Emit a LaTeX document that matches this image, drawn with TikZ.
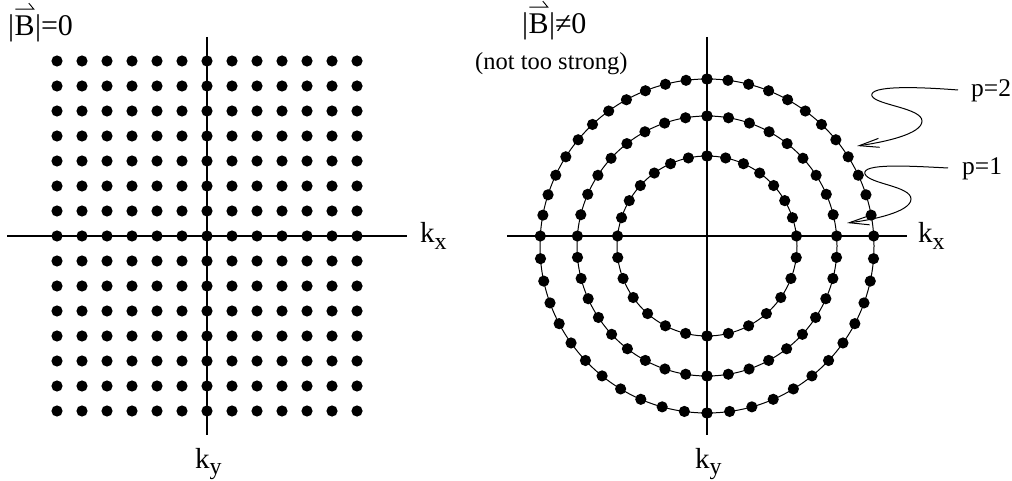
\documentclass[tikz,border=0pt]{standalone}
\usepackage{fontspec}
\setmainfont{Liberation Serif}
\usetikzlibrary{arrows.meta,calc}
\begin{document}
\begin{tikzpicture}[x=1pt,y=-1pt,
  axis/.style={line width=1.3pt},
  ring/.style={line width=1pt},
  dotf/.style={fill=black},
  big/.style={font=\fontsize{30}{32}\selectfont, inner sep=0pt},
  klbl/.style={font=\fontsize{29}{31}\selectfont, inner sep=0pt},
  small/.style={font=\fontsize{24.5}{26}\selectfont, inner sep=0pt},
  plbl/.style={font=\fontsize{25.5}{27}\selectfont, inner sep=0pt},
  pointer/.style={line width=1pt, -{Straight Barb[length=20pt,width=9pt,line width=1pt]}}]
\useasboundingbox (0,0) rectangle (1012,481);
% ---------- left panel ----------
\draw[axis] (7,236) -- (407,236);
\draw[axis] (207,37) -- (207,435);
\foreach \i in {0,...,12}{
  \foreach \j in {0,...,14}{
    \fill[dotf] (57+25*\i, 61+25*\j) circle (5.6);
  }
}
\node[big, anchor=base west] (lbar1) at (8,36) {|};
\node[big, anchor=base west] (lB) at (lbar1.base east) {B};
\node[big, anchor=base west] (lrest) at (lB.base east) {|=0};
\draw[line width=0.9pt] ($(lB.north west)+(1,-7)$) -- ($(lB.north east)+(-1,-7)$) -- ++(-5,-6);
\node[klbl, anchor=base west] (kxl) at (420,243) {k\raisebox{-6pt}{\fontsize{24}{24}\selectfont x}};
\node[klbl, anchor=base west] (kyl) at (195,468) {k\raisebox{-6pt}{\fontsize{24}{24}\selectfont y}};
% ---------- right panel ----------
\draw[axis] (507,236) -- (907,236);
\draw[axis] (707,37) -- (707,435);
\coordinate (c) at (707,246);
% radius / intervals per upper quadrant / intervals per lower quadrant
\foreach \r/\nu/\nl in {90/7/7,130/9/10,167/12/12}{
  \draw[ring] (c) circle (\r);
  \pgfmathsetmacro{\tz}{asin(10/\r)}
  \pgfmathsetmacro{\su}{(90-\tz)/\nu}
  \pgfmathsetmacro{\sl}{(90+\tz)/\nl}
  \foreach \k in {0,...,\nu}{
    \pgfmathsetmacro{\t}{\tz+\su*\k}
    \fill[dotf] ({707+\r*cos(\t)},{246-\r*sin(\t)}) circle (5.6);
    \fill[dotf] ({707-\r*cos(\t)},{246-\r*sin(\t)}) circle (5.6);
  }
  \foreach \k in {1,...,\nl}{
    \pgfmathsetmacro{\t}{\tz-\sl*\k}
    \fill[dotf] ({707+\r*cos(\t)},{246-\r*sin(\t)}) circle (5.6);
    \fill[dotf] ({707-\r*cos(\t)},{246-\r*sin(\t)}) circle (5.6);
  }
}
\node[big, anchor=base west] (rbar1) at (522,34) {|};
\node[big, anchor=base west] (rB) at (rbar1.base east) {B};
\node[big, anchor=base west] (rrest) at (rB.base east) {|≠0};
\draw[line width=0.9pt] ($(rB.north west)+(1,-7)$) -- ($(rB.north east)+(-1,-7)$) -- ++(-5,-6);
\node[small, anchor=base west] (nts) at (475,70) {(not too strong)};
\node[klbl, anchor=base west] (kxr) at (918,243) {k\raisebox{-6pt}{\fontsize{24}{24}\selectfont x}};
\node[klbl, anchor=base west] (kyr) at (695,468) {k\raisebox{-6pt}{\fontsize{24}{24}\selectfont y}};
% ---------- pointers ----------
\node[plbl, anchor=base west] (p2) at (971,97) {p=2};
\node[plbl, anchor=base west] (p1) at (962,175) {p=1};
\coordinate (s2) at (958,90);
\coordinate (s1) at (948,168);
\coordinate (t2) at (857,146);
\coordinate (t1) at (847,223);
\draw[pointer] (s2) .. controls (920,87) and (868,85) .. (872,96)
  .. controls (876,105) and (922,108) .. (922,121)
  .. controls (922,134) and (885,142) .. (t2);
\draw[pointer] (s1) .. controls (910,166) and (861,163) .. (865,174)
  .. controls (869,184) and (911,186) .. (911,199)
  .. controls (911,212) and (872,220) .. (t1);
\end{tikzpicture}
\end{document}
